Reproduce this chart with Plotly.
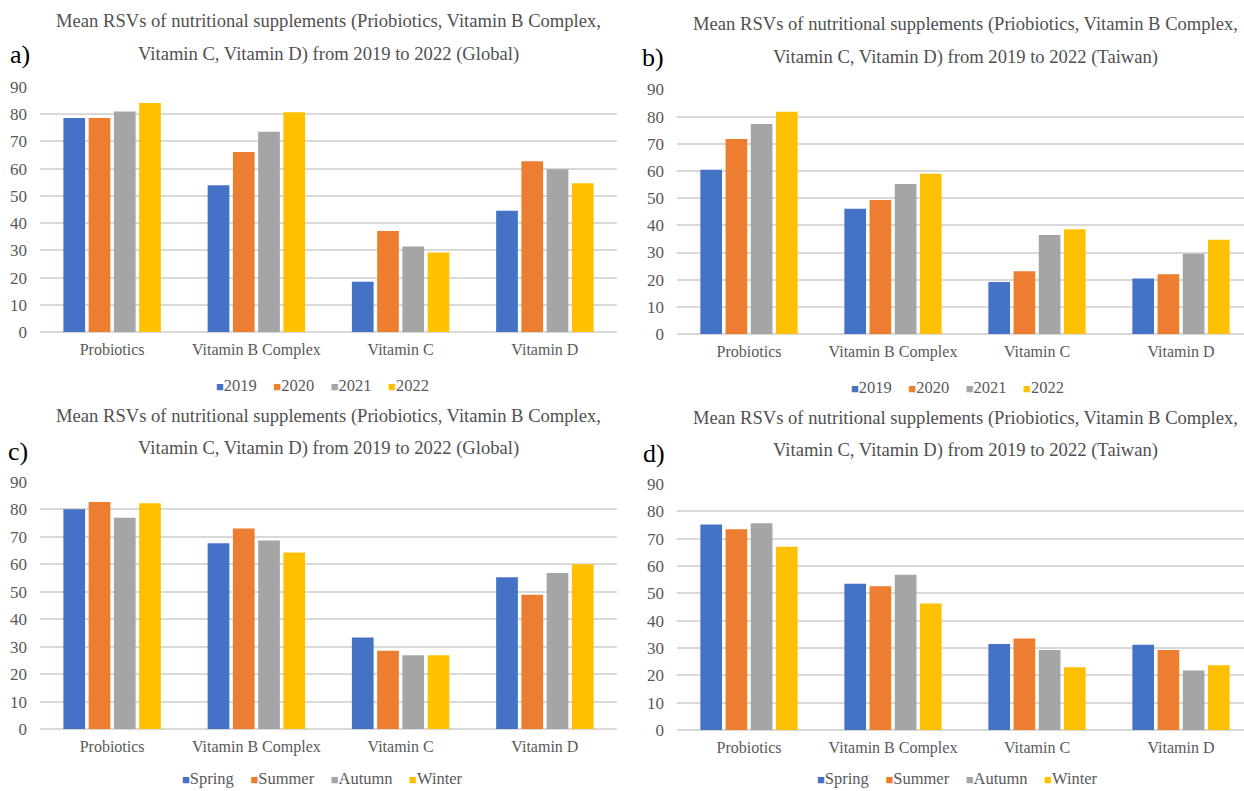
import plotly.graph_objects as go

# Supplement categories and series labels
categories = ["Probiotics", "Vitamin B Complex", "Vitamin C", "Vitamin D"]
years = ["2019", "2020", "2021", "2022"]
seasons = ["Spring", "Summer", "Autumn", "Winter"]

# a) Global, by year
global_2019 = [78.6, 53.9, 18.5, 44.5]
global_2020 = [78.6, 66.1, 37.1, 62.7]
global_2021 = [81.0, 73.6, 31.4, 59.8]
global_2022 = [84.1, 80.7, 29.2, 54.6]

# b) Taiwan, by year
taiwan_2019 = [60.5, 46.1, 19.1, 20.4]
taiwan_2020 = [71.8, 49.3, 23.1, 22.0]
taiwan_2021 = [77.3, 55.2, 36.4, 29.5]
taiwan_2022 = [81.8, 59.0, 38.6, 34.7]

# c) Global, by season
global_spring = [80.1, 67.7, 33.3, 55.3]
global_summer = [82.7, 73.1, 28.5, 48.9]
global_autumn = [77.0, 68.7, 26.9, 56.8]
global_winter = [82.3, 64.3, 26.9, 60.0]

# d) Taiwan, by season
taiwan_spring = [75.2, 53.5, 31.5, 31.2]
taiwan_summer = [73.4, 52.6, 33.5, 29.3]
taiwan_autumn = [75.6, 56.8, 29.3, 21.8]
taiwan_winter = [67.0, 46.3, 23.0, 23.7]

y_ticks = [0, 10, 20, 30, 40, 50, 60, 70, 80, 90]

title_line1 = "Mean RSVs of nutritional supplements (Priobiotics, Vitamin B Complex,"
title_line2_global = "Vitamin C, Vitamin D) from 2019 to 2022 (Global)"
title_line2_taiwan = "Vitamin C, Vitamin D) from 2019 to 2022 (Taiwan)"

colors = ["#4472C4", "#ED7D31", "#A5A5A5", "#FFC000"]
FONT = "Liberation Serif"
TEXT_GRAY = "#595959"
TITLE_GRAY = "#505050"
GRID = "#d9d9d9"

W, H = 1244, 791


def fx(px):
    return px / W


def fy(py):
    return 1 - py / H


def legend_text(names):
    # coloured square marker followed by the series name, for each series
    parts = []
    for name, col in zip(names, colors):
        parts.append(
            f"<span style='color:{col};font-size:13px'>■</span>{name}")
    return "&nbsp;&nbsp;&nbsp;&nbsp;".join(parts)


panels = [
    dict(name="a)", series=years,
         values=[global_2019, global_2020, global_2021, global_2022],
         x0=40, x1=617, ytop=87, ybot=332, xr=[-0.5, 3.5],
         t2=title_line2_global, lab=(20, 54), ty=(21, 54), leg=(322, 385)),
    dict(name="b)", series=years,
         values=[taiwan_2019, taiwan_2020, taiwan_2021, taiwan_2022],
         x0=677, x1=1244, ytop=89.5, ybot=334, xr=[-0.5, 3.4375],
         t2=title_line2_taiwan, lab=(653, 57), ty=(24, 57), leg=(957, 387)),
    dict(name="c)", series=seasons,
         values=[global_spring, global_summer, global_autumn, global_winter],
         x0=40, x1=617, ytop=482, ybot=729, xr=[-0.5, 3.5],
         t2=title_line2_global, lab=(18, 451), ty=(416, 448), leg=(322, 778)),
    dict(name="d)", series=seasons,
         values=[taiwan_spring, taiwan_summer, taiwan_autumn, taiwan_winter],
         x0=677, x1=1244, ytop=484, ybot=730, xr=[-0.5, 3.4375],
         t2=title_line2_taiwan, lab=(654, 453), ty=(418, 450), leg=(957, 778)),
]

fig = go.Figure()
annotations = []
layout_extra = {}

for i, p in enumerate(panels):
    n = i + 1
    xa = "x" if n == 1 else f"x{n}"
    ya = "y" if n == 1 else f"y{n}"
    for name, vals, col in zip(p["series"], p["values"], colors):
        fig.add_trace(go.Bar(
            x=categories, y=vals, name=name, marker_color=col,
            marker_line_width=0, xaxis=xa, yaxis=ya, showlegend=False,
        ))
    xkey = "xaxis" if n == 1 else f"xaxis{n}"
    ykey = "yaxis" if n == 1 else f"yaxis{n}"
    layout_extra[xkey] = dict(
        domain=[fx(p["x0"]), fx(p["x1"])], anchor=ya, automargin=False,
        type="category", range=p["xr"], showgrid=False, zeroline=False,
        showline=False, ticks="", ticklabelstandoff=6,
        tickfont=dict(family=FONT, size=16, color=TEXT_GRAY),
    )
    layout_extra[ykey] = dict(
        domain=[fy(p["ybot"]), fy(p["ytop"])], anchor=xa, automargin=False,
        range=[0, 90], tickvals=y_ticks, showgrid=True, gridcolor=GRID,
        gridwidth=1.5, zeroline=True, zerolinecolor=GRID, zerolinewidth=1.5,
        showline=False, ticks="", ticklabelstandoff=12,
        tickfont=dict(family=FONT, size=17, color=TEXT_GRAY),
    )
    # centre of the full 4-category span (panel b/d run past the right edge)
    span = (p["x1"] - p["x0"]) * 4 / (p["xr"][1] - p["xr"][0])
    xc = p["x0"] + span / 2
    annotations.append(dict(
        text=title_line1, x=fx(xc), y=fy(p["ty"][0]), xref="paper", yref="paper",
        xanchor="center", yanchor="middle", showarrow=False,
        font=dict(family=FONT, size=18.6, color=TITLE_GRAY)))
    annotations.append(dict(
        text=p["t2"], x=fx(xc), y=fy(p["ty"][1]), xref="paper", yref="paper",
        xanchor="center", yanchor="middle", showarrow=False,
        font=dict(family=FONT, size=18.6, color=TITLE_GRAY)))
    annotations.append(dict(
        text=p["name"], x=fx(p["lab"][0]), y=fy(p["lab"][1]), xref="paper",
        yref="paper", xanchor="center", yanchor="middle", showarrow=False,
        font=dict(family=FONT, size=26, color="#000000")))
    annotations.append(dict(
        text=legend_text(p["series"]), x=fx(p["leg"][0]), y=fy(p["leg"][1]),
        xref="paper", yref="paper", xanchor="center", yanchor="middle",
        showarrow=False, font=dict(family=FONT, size=16.5, color=TEXT_GRAY)))

fig.update_layout(
    width=W, height=H, margin=dict(l=0, r=0, t=0, b=0, pad=0),
    paper_bgcolor="white", plot_bgcolor="white",
    font=dict(family=FONT, color=TEXT_GRAY),
    barmode="group", bargap=0.30, bargroupgap=0.14,
    annotations=annotations, **layout_extra,
)

fig.write_html("out.html")
